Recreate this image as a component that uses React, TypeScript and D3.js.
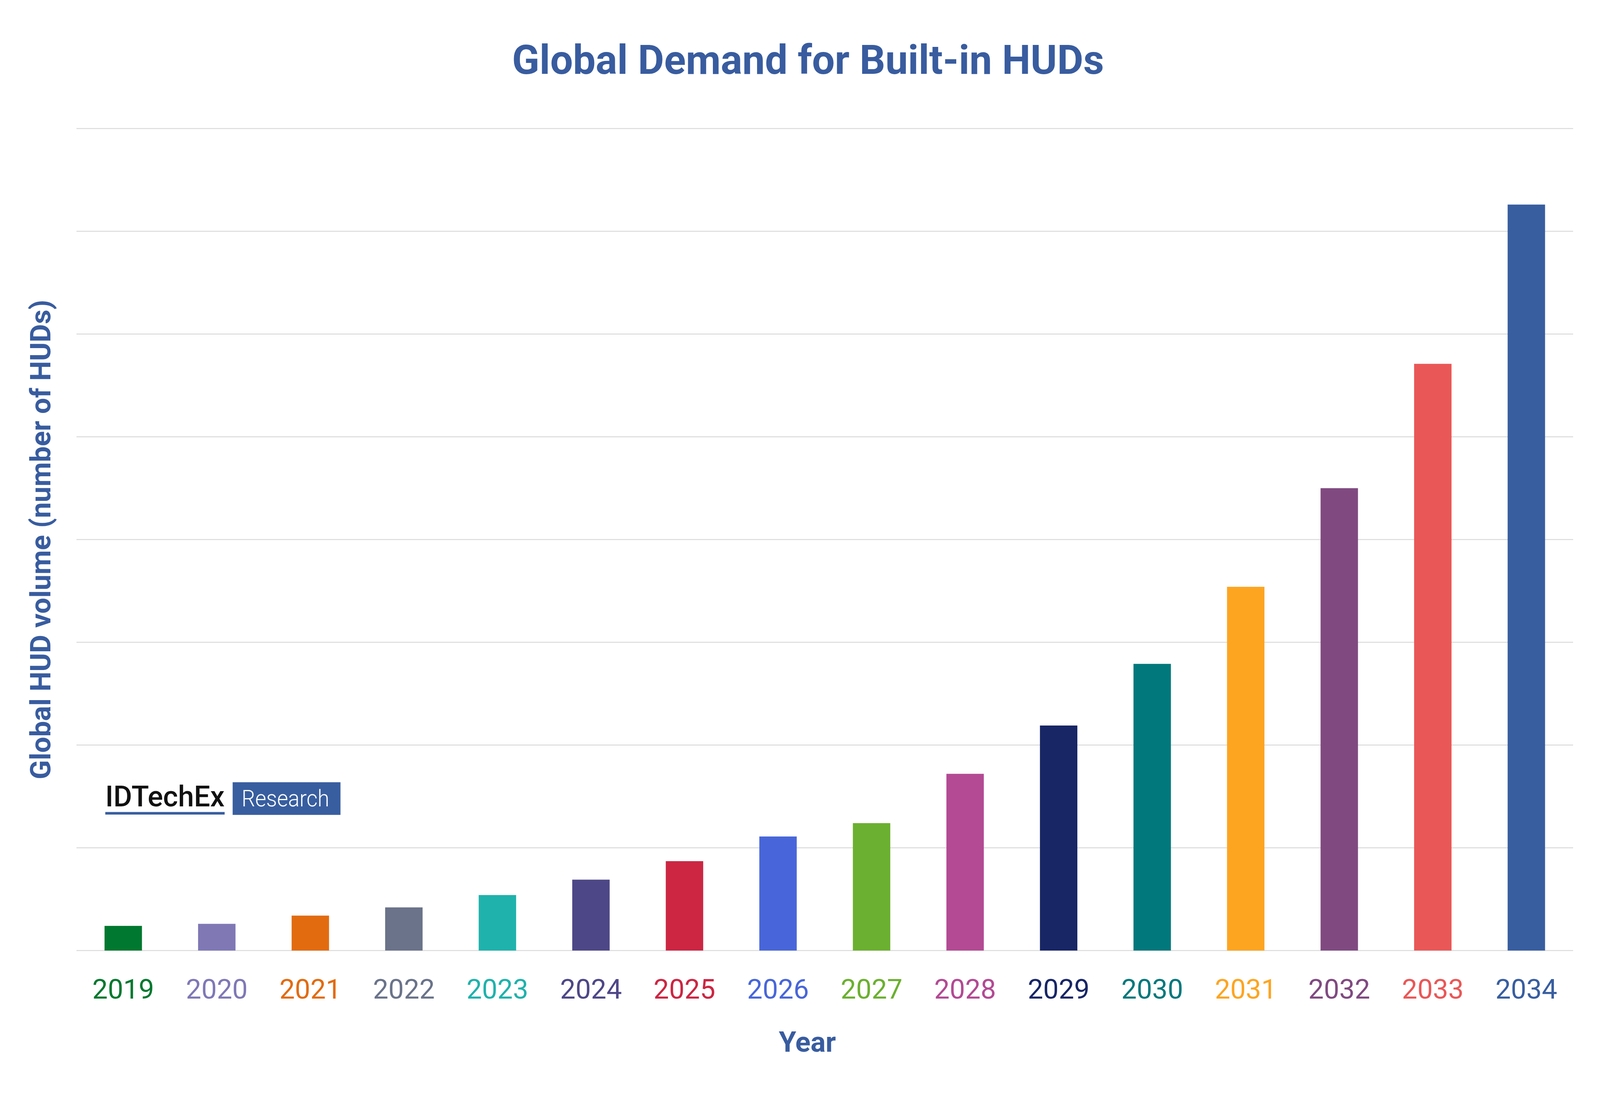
import * as d3 from "d3";

// values in grid units (one gridline = one unit)
const years = ["2019", "2020", "2021", "2022", "2023", "2024", "2025", "2026", "2027", "2028", "2029", "2030", "2031", "2032", "2033", "2034"];
const volume = [0.24, 0.26, 0.34, 0.42, 0.54, 0.69, 0.87, 1.11, 1.24, 1.72, 2.19, 2.79, 3.54, 4.5, 5.71, 7.26];
const colors = ["#00782F", "#7F78B5", "#E26B10", "#6A7389", "#1FB2AC", "#4E4787", "#CC2643", "#4866D9", "#6BB030", "#B34A93", "#182666", "#00787C", "#FDA521", "#804A81", "#EA5757", "#385EA0"];
const gridTicks = [0, 1, 2, 3, 4, 5, 6, 7, 8];

const W = 5000;
const H = 2813;
const blue = "#385C9F";
const font = "Roboto, 'Noto Sans', sans-serif";

const App = () => {
  // lay the chart out in 5000 units across, stretching only positions (not text) to the window height
  const vw = window.innerWidth || W;
  const vh = window.innerHeight || H;
  const Hv = (W * vh) / vw;
  const ky = Hv / H;
  const Y = (v: number) => v * ky;

  const x = d3
    .scaleBand()
    .domain(years)
    .range([239, 4916])
    .paddingInner(0.6)
    .paddingOuter(0.3);

  const y = d3.scaleLinear().domain([0, 8]).range([Y(2433), Y(329)]);

  const logoBase = Y(2044);

  return (
    <svg
      viewBox={`0 0 ${W} ${Hv}`}
      preserveAspectRatio="xMidYMid meet"
      style={{ position: "fixed", left: 0, top: 0, width: "100vw", height: "100vh", background: "#fff" }}
    >
      <rect width={W} height={Hv} fill="#fff" />
      <text x={2525} y={Y(152) + 45} textAnchor="middle" fontFamily={font} fontWeight={700} fontSize={126} fill={blue}>
        Global Demand for Built-in HUDs
      </text>

      {gridTicks.map((t) => (
        <line key={t} x1={239} x2={4916} y1={y(t)} y2={y(t)} stroke="#DADADA" strokeWidth={3} />
      ))}

      {/* logo */}
      <text x={329} y={logoBase + 25} fontFamily={font} fontWeight={500} fontSize={90} fill="#111" textLength={373} lengthAdjust="spacingAndGlyphs">
        IDTechEx
      </text>
      <rect x={329} y={logoBase + 42} width={373} height={8} fill="#385EA0" />
      <rect x={727} y={logoBase - 51} width={337} height={102} fill="#385EA0" />
      <text x={755} y={logoBase + 25} fontFamily={font} fontWeight={300} fontSize={72} fill="#fff" textLength={274} lengthAdjust="spacingAndGlyphs">
        Research
      </text>

      {years.map((yr, i) => (
        <rect
          key={yr}
          x={x(yr)}
          y={y(volume[i])}
          width={x.bandwidth()}
          height={y(0) - y(volume[i])}
          fill={colors[i]}
        />
      ))}

      {years.map((yr, i) => (
        <text
          key={yr}
          x={(x(yr) as number) + x.bandwidth() / 2}
          y={Y(2530) + 32}
          textAnchor="middle"
          fontFamily={font}
          fontSize={86}
          fill={colors[i]}
        >
          {yr}
        </text>
      ))}

      <text x={2523} y={Y(2667) + 31} textAnchor="middle" fontFamily={font} fontWeight={700} fontSize={88} fill={blue}>
        Year
      </text>
      <text
        transform={`translate(157,${Y(1381)}) rotate(-90)`}
        textAnchor="middle"
        fontFamily={font}
        fontWeight={700}
        fontSize={88}
        fill={blue}
      >
        Global HUD volume (number of HUDs)
      </text>
    </svg>
  );
};

export default App;
